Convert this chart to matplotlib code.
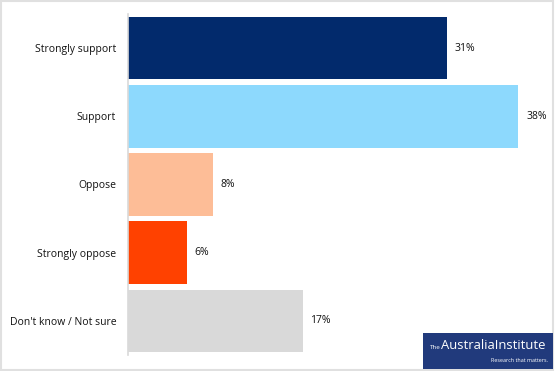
import matplotlib.pyplot as plt
from matplotlib.patches import Rectangle

categories = ['Strongly support', 'Support', 'Oppose', 'Strongly oppose', "Don't know / Not sure"]
values = [31, 38, 8.3, 5.7, 17]
labels = ['31%', '38%', '8%', '6%', '17%']
colors = ['#022a6c', '#8dd9fd', '#fdbd97', '#ff4100', '#d9d9d9']

fig = plt.figure(figsize=(5.55, 3.71), dpi=100)
ax = fig.add_axes([128 / 555, 1 - 355 / 371, 411 / 555, 341 / 371])

y = range(len(categories))
ax.barh(y, values, height=0.92, color=colors)
ax.set_ylim(len(categories) - 0.5, -0.5)
ax.set_xlim(0, 40)

for i, (v, lab) in enumerate(zip(values, labels)):
    ax.text(v + 0.75, i, lab, va='center', ha='left', fontsize=7.5, family='Open Sans', color='#111111')

ax.set_yticks(list(y))
ax.set_yticklabels(categories, fontsize=7.5, family='Open Sans', color='#111111')
ax.tick_params(axis='y', length=0, pad=8.5)
ax.set_xticks([])
for s in ['top', 'right', 'bottom']:
    ax.spines[s].set_visible(False)
ax.spines['left'].set_color('#d9d9d9')
ax.spines['left'].set_linewidth(1.2)

# outer frame
fig.patches.append(Rectangle((0.002, 0.003), 0.994, 0.994, transform=fig.transFigure,
                             fill=False, edgecolor='#e0e0e0', linewidth=1.5))

# logo box
fig.patches.append(Rectangle((423 / 555, 1 - 369 / 371), 130 / 555, 36 / 371,
                             transform=fig.transFigure, facecolor='#213a7c', edgecolor='none'))
fig.text(430 / 555, 1 - 349 / 371, 'The', color='white', fontsize=4.5, family='Open Sans',
         va='baseline', ha='left')
fig.text(441 / 555, 1 - 349 / 371, 'AustraliaInstitute', color='white', fontsize=9.4,
         family='Open Sans', va='baseline', ha='left')
fig.text(548 / 555, 1 - 362 / 371, 'Research that matters.', color='white', fontsize=3.9,
         family='Open Sans', va='baseline', ha='right')

plt.savefig('out.png', dpi=100)
